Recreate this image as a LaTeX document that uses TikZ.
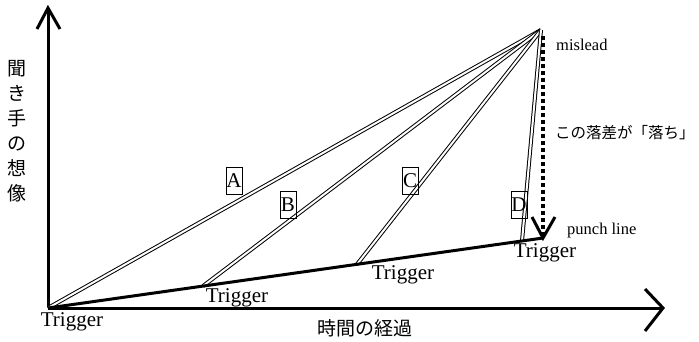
\documentclass[tikz,border=0pt]{standalone}
\usepackage{fontspec}
\setmainfont{Liberation Serif}
\newfontfamily\jp{Noto Sans CJK JP}
\usetikzlibrary{calc}
\begin{document}
\begin{tikzpicture}[x=1pt,y=-1pt,
  axis/.style={line width=3pt},
  dbl/.style={draw, line width=1pt, double, double distance=2pt},
  lbl/.style={font=\fontsize{21}{21}\selectfont, inner sep=0pt},
  boxlbl/.style={draw, line width=1pt, font=\fontsize{21}{21}\selectfont, inner sep=0pt, minimum width=16pt, minimum height=27pt},
  small/.style={font=\fontsize{16.5}{16.5}\selectfont, inner sep=0pt},
  jpl/.style={font=\jp\fontsize{19}{25}\selectfont, inner sep=0pt, align=center}]
\useasboundingbox (0,0) rectangle (699,341);
\coordinate (O) at (48,308);
\coordinate (YT) at (48,8);
\coordinate (XT) at (663,308);
\coordinate (M) at (541,30);
\coordinate (P) at (543,238);
\coordinate (TB) at ($(O)!0.3131!(P)$);
\coordinate (TC) at ($(O)!0.6242!(P)$);
\coordinate (TD) at ($(O)!0.9576!(P)$);
\coordinate (DS) at (543,36);
% axes
\draw[axis] (O) -- (YT);
\draw[axis] (O) -- (XT);
\draw[axis] ([shift={(-11,21)}]YT) -- (YT) -- ([shift={(12,21)}]YT);
\draw[axis] ([shift={(-18,-19)}]XT) -- (XT) -- ([shift={(-18,23)}]XT);
% double lines
\draw[dbl] (O) -- (M);
\draw[dbl] (TB) -- (M);
\draw[dbl] (TC) -- (M);
\draw[dbl] (TD) -- (M);
% thick line
\draw[line width=3pt] (O) -- (P);
% dashed drop
\draw[line width=3.2pt, dash pattern=on 4pt off 3pt] (DS) -- (P);
\draw[line width=3pt] ([shift={(-11,-21)}]P) -- (P) -- ([shift={(12,-21)}]P);
% labels
\node[boxlbl] (A) at (234,181) {A};
\node[boxlbl] (B) at (288,204.5) {B};
\node[boxlbl] (C) at (410,181) {C};
\node[boxlbl] (D) at (519,204.5) {D};
\node[lbl] (t0) at (72,322) {Trigger};
\node[lbl] (t1) at (237,298) {Trigger};
\node[lbl] (t2) at (403,275) {Trigger};
\node[lbl] (t3) at (545,253) {Trigger};
\node[small, anchor=west] (ml) at (556,45) {mislead};
\node[small, anchor=west] (pl) at (567,231) {punch line};
\node[jpl, font=\jp\fontsize{15.5}{15.5}\selectfont, anchor=west] (ochi) at (555,133) {この落差が「落ち」};
\node[jpl] (ylab) at (17,131) {聞\\き\\手\\の\\想\\像};
\node[jpl] (xlab) at (365,328) {時間の経過};
\end{tikzpicture}
\end{document}
